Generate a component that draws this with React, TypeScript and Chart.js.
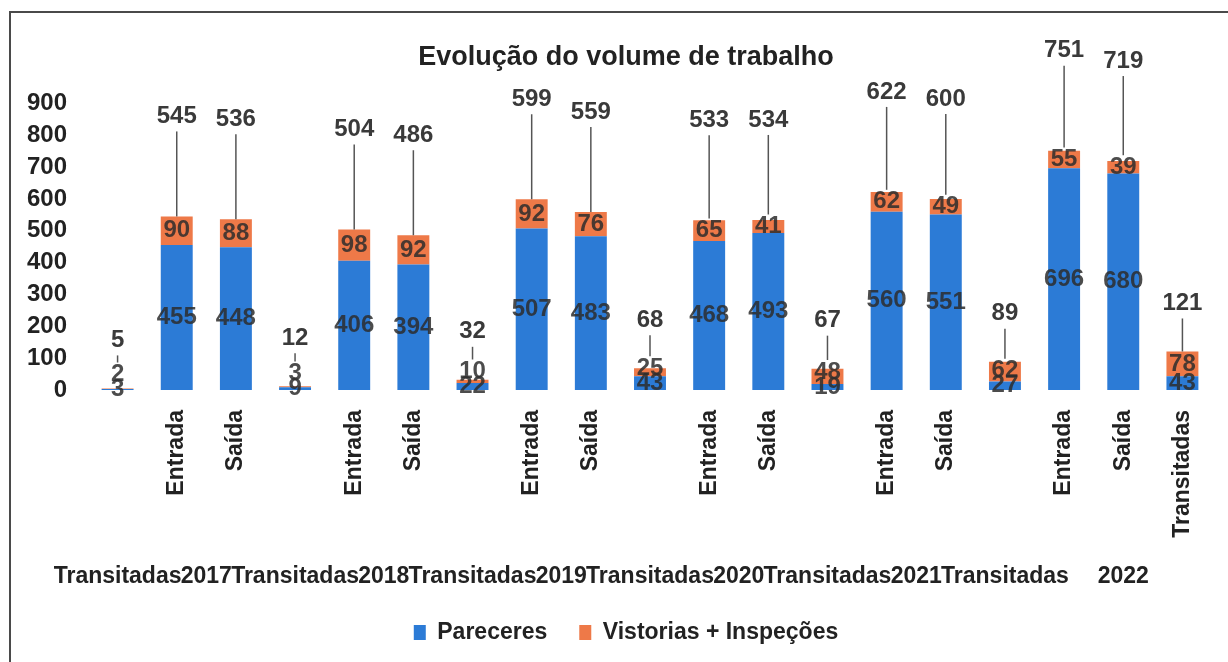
import React, { useEffect, useRef } from 'react';
import { Chart, registerables } from 'chart.js';

Chart.register(...registerables);

const FONT = "'Liberation Sans', Arial, sans-serif";

// Inner category level (rotated labels under each bar)
const innerLabels = ['', 'Entrada', 'Saída', '', 'Entrada', 'Saída', '', 'Entrada', 'Saída', '', 'Entrada', 'Saída', '', 'Entrada', 'Saída', '', 'Entrada', 'Saída', 'Transitadas'];
// Outer category level (bottom row)
const outerLabels = ['Transitadas', '2017', '2017', 'Transitadas', '2018', '2018', 'Transitadas', '2019', '2019', 'Transitadas', '2020', '2020', 'Transitadas', '2021', '2021', 'Transitadas', '2022', '2022', '2022'];

const pareceres = [3, 455, 448, 9, 406, 394, 22, 507, 483, 43, 468, 493, 19, 560, 551, 27, 696, 680, 43];
const vistorias = [2, 90, 88, 3, 98, 92, 10, 92, 76, 25, 65, 41, 48, 62, 49, 62, 55, 39, 78];

const seriesNames = ['Pareceres', 'Vistorias + Inspeções'];
const chartTitle = 'Evolução do volume de trabalho';
const yTicks = [0, 100, 200, 300, 400, 500, 600, 700, 800, 900];

const BLUE = '#2c7bd6';
const ORANGE = '#ee7948';
const TEXT = '#222222';

const framePlugin = {
  id: 'frame',
  afterLayout(chart: any) {
    // the original chart frame extends past the right edge, so title and legend sit a bit right of centre
    const shift = 20;
    if (chart.titleBlock) {
      chart.titleBlock.left += shift;
      chart.titleBlock.right += shift;
    }
    if (chart.legend) {
      chart.legend.left += shift;
      chart.legend.right += shift;
    }
  },
  beforeDraw(chart: any) {
    const { ctx, width, height } = chart;
    ctx.save();
    ctx.fillStyle = '#ffffff';
    ctx.fillRect(0, 0, width, height);
    ctx.strokeStyle = '#4a4a4a';
    ctx.lineWidth = 2;
    ctx.beginPath();
    ctx.moveTo(10, height);
    ctx.lineTo(10, 12);
    ctx.lineTo(width, 12);
    ctx.stroke();
    ctx.restore();
  },
};

const labelPlugin = {
  id: 'barLabels',
  afterDatasetsDraw(chart: any) {
    const { ctx } = chart;
    const m0 = chart.getDatasetMeta(0);
    const m1 = chart.getDatasetMeta(1);
    ctx.save();
    ctx.textAlign = 'center';
    ctx.textBaseline = 'middle';
    ctx.font = `bold 24px ${FONT}`;
    m0.data.forEach((bar0: any, i: number) => {
      const bar1 = m1.data[i];
      const x = bar0.x;
      const blueY = (bar0.y + bar0.base) / 2;
      const orangeMid = (bar1.y + bar1.base) / 2;
      const orangeY = Math.min(orangeMid, blueY - 15);
      ctx.fillStyle = 'rgba(45,45,45,0.85)';
      ctx.fillText(String(pareceres[i]), x, blueY);
      ctx.fillText(String(vistorias[i]), x, orangeY);

      const total = pareceres[i] + vistorias[i];
      const top = bar1.y;
      const lift = total >= 200 ? 100 : 48;
      const ly = top - lift;
      const lineEnd = Math.min(top, orangeY - 12);
      ctx.strokeStyle = '#555555';
      ctx.lineWidth = 1.5;
      ctx.beginPath();
      ctx.moveTo(x, ly + 15);
      ctx.lineTo(x, lineEnd);
      ctx.stroke();
      ctx.fillStyle = '#3a3a3a';
      ctx.fillText(String(total), x, ly);
    });
    ctx.restore();
  },
};

const groupPlugin = {
  id: 'groupLabels',
  afterDraw(chart: any) {
    const xs = chart.scales.x;
    const { ctx } = chart;
    ctx.save();
    ctx.font = `bold 23px ${FONT}`;
    ctx.fillStyle = TEXT;
    ctx.textAlign = 'center';
    ctx.textBaseline = 'middle';
    let start = 0;
    for (let i = 1; i <= outerLabels.length; i++) {
      if (i === outerLabels.length || outerLabels[i] !== outerLabels[start]) {
        const cx = (xs.getPixelForValue(start) + xs.getPixelForValue(i - 1)) / 2;
        ctx.fillText(outerLabels[start], cx, chart.chartArea.bottom + 187);
        start = i;
      }
    }
    ctx.restore();
  },
};

export default function App() {
  const ref = useRef<HTMLCanvasElement>(null);

  useEffect(() => {
    if (!ref.current) return;
    Chart.defaults.font.family = FONT;
    const chart = new Chart(ref.current, {
      type: 'bar',
      data: {
        labels: innerLabels,
        datasets: [
          { label: seriesNames[0], data: pareceres, backgroundColor: BLUE, barPercentage: 0.54, categoryPercentage: 1 },
          { label: seriesNames[1], data: vistorias, backgroundColor: ORANGE, barPercentage: 0.54, categoryPercentage: 1 },
        ],
      },
      options: {
        responsive: false,
        animation: false,
        layout: { padding: { left: 0, right: 16, top: 0, bottom: 8 } },
        plugins: {
          title: {
            display: true,
            text: chartTitle,
            color: TEXT,
            font: { size: 27, weight: 'bold', family: FONT },
            padding: { top: 41, bottom: 30 },
          },
          legend: {
            position: 'bottom',
            labels: {
              color: TEXT,
              font: { size: 23, weight: 'bold', family: FONT },
              boxWidth: 12,
              boxHeight: 15,
              padding: 32,
            },
          },
          tooltip: { enabled: false },
        },
        scales: {
          x: {
            stacked: true,
            grid: { display: false },
            border: { display: false },
            ticks: {
              autoSkip: false,
              maxRotation: 90,
              minRotation: 90,
              padding: 12,
              color: TEXT,
              font: { size: 23, weight: 'bold', family: FONT },
            },
            afterFit: (s: any) => {
              s.height = 199;
            },
          },
          y: {
            stacked: true,
            min: yTicks[0],
            max: yTicks[yTicks.length - 1],
            grid: { display: false },
            border: { display: false },
            ticks: {
              padding: 13,
              color: TEXT,
              font: { size: 24, weight: 'bold', family: FONT },
            },
            afterBuildTicks: (s: any) => {
              s.ticks = yTicks.map((v) => ({ value: v }));
            },
            afterFit: (s: any) => {
              s.width = 88;
            },
          },
        },
      },
      plugins: [framePlugin, labelPlugin, groupPlugin],
    } as any);
    return () => chart.destroy();
  }, []);

  return (
    <div style={{ position: 'fixed', left: 0, top: 0, width: 1228, height: 662 }}>
      <canvas ref={ref} width={1228} height={662} />
    </div>
  );
}
